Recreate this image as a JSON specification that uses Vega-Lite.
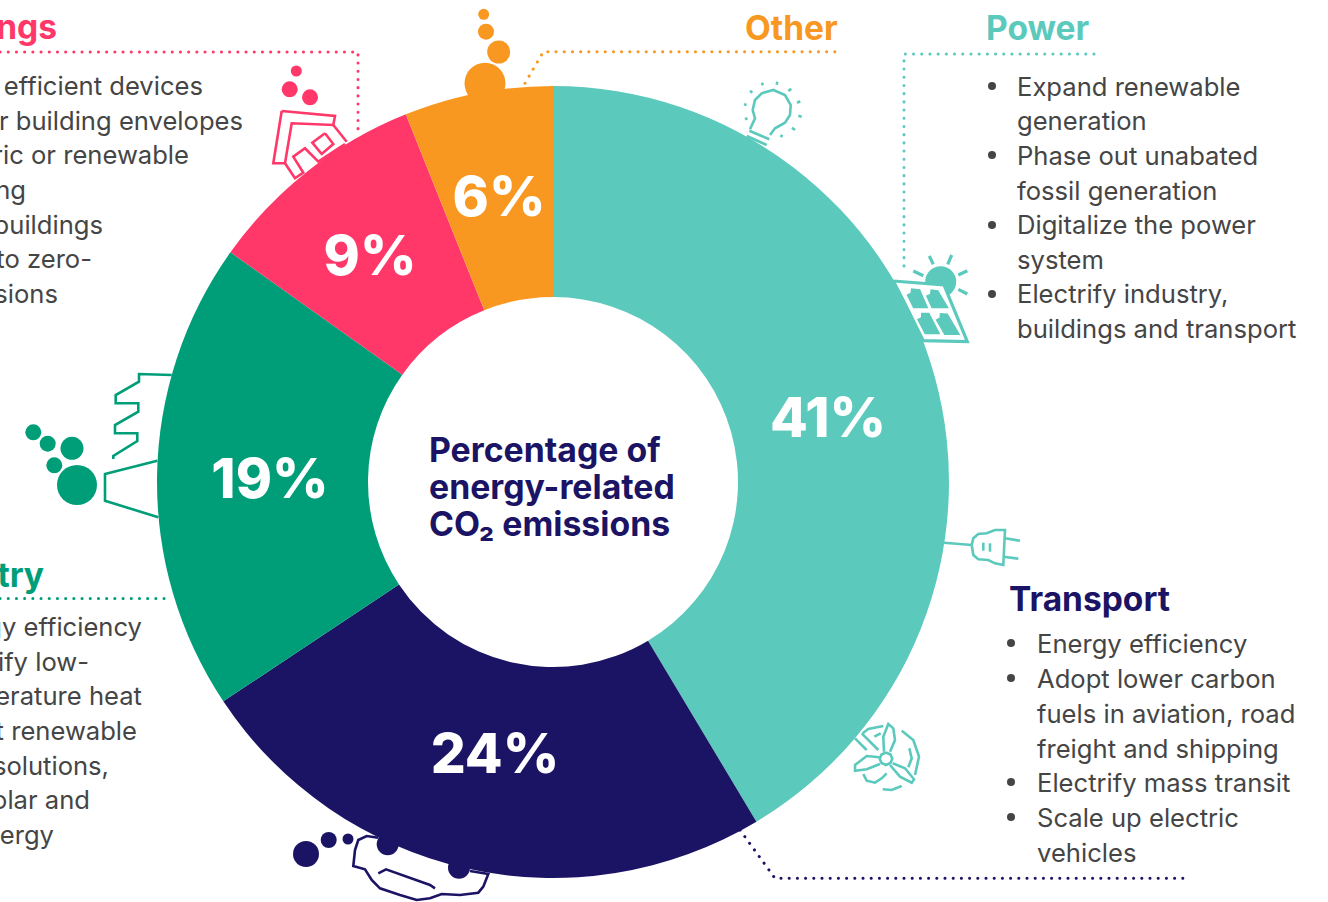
{
"$schema":"https://vega.github.io/schema/vega-lite/v6.json",
"width":1328,"height":902,"autosize":{"type":"none"},"padding":0,"background":"#ffffff",
"config":{"view":{"stroke":null},"text":{"font":"Inter"}},
"datasets":{
"slices":[
{"c":"Power","ord":1,"value":41,"cx":553,"cy":482},{"c":"Transport","ord":2,"value":24,"cx":553,"cy":482},{"c":"Industry","ord":3,"value":19,"cx":553,"cy":482},{"c":"Buildings","ord":4,"value":9,"cx":553,"cy":482},{"c":"Other","ord":5,"value":6,"cx":553,"cy":482}],
"texts":[
{"k":"pct","x":828,"y":437,"t":"41%"},{"k":"pct","x":495,"y":773,"t":"24%"},{"k":"pct","x":270,"y":498,"t":"19%"},{"k":"pct","x":370,"y":275,"t":"9%"},{"k":"pct","x":499,"y":216,"t":"6%"},
{"k":"title","x":429,"y":462,"t":"Percentage of"},{"k":"title","x":429,"y":499,"t":"energy-related"},{"k":"title","x":429,"y":536,"t":"CO₂ emissions"},
{"k":"headL","c":"Other","x":745,"y":40,"t":"Other"},{"k":"headL","c":"Power","x":986,"y":40,"t":"Power"},{"k":"headL","c":"Transport","x":1009,"y":611,"t":"Transport"},
{"k":"headR","c":"Buildings","x":57,"y":39,"t":"Buildings"},{"k":"headR","c":"Industry","x":44,"y":587,"t":"Industry"},
{"k":"bodyL","x":1017,"y":96,"t":"Expand renewable"},{"k":"bodyL","x":1017,"y":130,"t":"generation"},{"k":"bodyL","x":1017,"y":165,"t":"Phase out unabated"},{"k":"bodyL","x":1017,"y":200,"t":"fossil generation"},{"k":"bodyL","x":1017,"y":234,"t":"Digitalize the power"},{"k":"bodyL","x":1017,"y":269,"t":"system"},{"k":"bodyL","x":1017,"y":303,"t":"Electrify industry,"},{"k":"bodyL","x":1017,"y":338,"t":"buildings and transport"},
{"k":"bodyL","x":1037,"y":653,"t":"Energy efficiency"},{"k":"bodyL","x":1037,"y":688,"t":"Adopt lower carbon"},{"k":"bodyL","x":1037,"y":723,"t":"fuels in aviation, road"},{"k":"bodyL","x":1037,"y":758,"t":"freight and shipping"},{"k":"bodyL","x":1037,"y":792,"t":"Electrify mass transit"},{"k":"bodyL","x":1037,"y":827,"t":"Scale up electric"},{"k":"bodyL","x":1037,"y":862,"t":"vehicles"},
{"k":"bodyR","x":203,"y":95,"t":"Use efficient devices"},{"k":"bodyR","x":243,"y":130,"t":"Better building envelopes"},{"k":"bodyR","x":189,"y":164,"t":"Electric or renewable"},{"k":"bodyR","x":26,"y":199,"t":"heating"},{"k":"bodyR","x":103,"y":234,"t":"Retrofit buildings"},{"k":"bodyR","x":92,"y":268,"t":"to zero-"},{"k":"bodyR","x":58,"y":303,"t":"emissions"},
{"k":"bodyR","x":142,"y":636,"t":"Energy efficiency"},{"k":"bodyR","x":89,"y":671,"t":"Electrify low-"},{"k":"bodyR","x":142,"y":705,"t":"temperature heat"},{"k":"bodyR","x":137,"y":740,"t":"Adopt renewable"},{"k":"bodyR","x":109,"y":775,"t":"heat solutions,"},{"k":"bodyR","x":90,"y":809,"t":"e.g. solar and"},{"k":"bodyR","x":54,"y":844,"t":"bioenergy"}],
"dots":[
{"c":"Body","x":992,"y":86,"d":8},{"c":"Body","x":992,"y":155,"d":8},{"c":"Body","x":992,"y":225,"d":8},{"c":"Body","x":992,"y":294,"d":8},
{"c":"Body","x":1011,"y":643,"d":8},{"c":"Body","x":1011,"y":678,"d":8},{"c":"Body","x":1011,"y":782,"d":8},{"c":"Body","x":1011,"y":817,"d":8},
{"c":"Other","x":485,"y":83.3,"d":41},{"c":"Other","x":498.7,"y":52,"d":23},{"c":"Other","x":486,"y":31.7,"d":16},{"c":"Other","x":483.7,"y":14.3,"d":11},
{"c":"Buildings","x":296.3,"y":71,"d":11},{"c":"Buildings","x":289.7,"y":89.3,"d":16},{"c":"Buildings","x":310,"y":97.3,"d":16},
{"c":"Industry","x":77,"y":485,"d":40},{"c":"Industry","x":72,"y":448.3,"d":23},{"c":"Industry","x":54.3,"y":465.3,"d":16},{"c":"Industry","x":47.7,"y":443.7,"d":16},{"c":"Industry","x":33.3,"y":432.3,"d":16},
{"c":"Transport","x":387.7,"y":844.3,"d":22},{"c":"Transport","x":459,"y":867.7,"d":22},{"c":"Transport","x":306,"y":854,"d":26},{"c":"Transport","x":328.7,"y":840,"d":16},{"c":"Transport","x":348,"y":839,"d":11},
{"c":"Power","x":940.7,"y":281.7,"d":31}],
"leaders":[
{"g":"b","c":"Buildings","i":0,"x":0,"y":52},{"g":"b","c":"Buildings","i":1,"x":358,"y":52},{"g":"b","c":"Buildings","i":2,"x":358,"y":135},
{"g":"o","c":"Other","i":0,"x":525,"y":83.3},{"g":"o","c":"Other","i":1,"x":543.3,"y":51.7},{"g":"o","c":"Other","i":2,"x":839.3,"y":51.7},
{"g":"p","c":"Power","i":0,"x":1094,"y":54},{"g":"p","c":"Power","i":1,"x":904,"y":54},{"g":"p","c":"Power","i":2,"x":904,"y":274},
{"g":"t","c":"Transport","i":0,"x":740,"y":830},{"g":"t","c":"Transport","i":1,"x":775,"y":878.3},{"g":"t","c":"Transport","i":2,"x":1185,"y":878.3},
{"g":"n","c":"Industry","i":0,"x":0,"y":598.5},{"g":"n","c":"Industry","i":1,"x":165,"y":598.5}],
"panelWhite":[
{"g":"pw","c":"Paper","i":0,"x":907,"y":293},{"g":"pw","c":"Paper","i":1,"x":936,"y":295},{"g":"pw","c":"Paper","i":2,"x":952,"y":331},{"g":"pw","c":"Paper","i":3,"x":926,"y":330},{"g":"pw","c":"Paper","i":4,"x":907,"y":293}],
"fills":[
{"g":"c1","c":"Power","i":0,"x":910.5,"y":292.8},{"g":"c1","c":"Power","i":1,"x":917,"y":293.5},{"g":"c1","c":"Power","i":2,"x":921.5,"y":303.8},{"g":"c1","c":"Power","i":3,"x":916,"y":303.8},{"g":"c1","c":"Power","i":4,"x":910.5,"y":292.8},
{"g":"c2","c":"Power","i":0,"x":930,"y":293.8},{"g":"c2","c":"Power","i":1,"x":935.5,"y":294.5},{"g":"c2","c":"Power","i":2,"x":941,"y":303.8},{"g":"c2","c":"Power","i":3,"x":934.5,"y":303.8},{"g":"c2","c":"Power","i":4,"x":930,"y":293.8},
{"g":"c3","c":"Power","i":0,"x":921,"y":317.2},{"g":"c3","c":"Power","i":1,"x":926.5,"y":317.2},{"g":"c3","c":"Power","i":2,"x":933,"y":329.8},{"g":"c3","c":"Power","i":3,"x":927.5,"y":329.8},{"g":"c3","c":"Power","i":4,"x":921,"y":317.2},
{"g":"c4","c":"Power","i":0,"x":939.5,"y":317.4},{"g":"c4","c":"Power","i":1,"x":945,"y":317.8},{"g":"c4","c":"Power","i":2,"x":952.5,"y":330.5},{"g":"c4","c":"Power","i":3,"x":947,"y":330.5},{"g":"c4","c":"Power","i":4,"x":939.5,"y":317.4}],
"rays":[
{"g":"r1","c":"Power","i":0,"x":929.3,"y":256},{"g":"r1","c":"Power","i":1,"x":933.3,"y":264.3},
{"g":"r2","c":"Power","i":0,"x":951.7,"y":255},{"g":"r2","c":"Power","i":1,"x":947.7,"y":264.3},
{"g":"r3","c":"Power","i":0,"x":913.3,"y":271},{"g":"r3","c":"Power","i":1,"x":923.3,"y":275.7},
{"g":"r4","c":"Power","i":0,"x":958.3,"y":275},{"g":"r4","c":"Power","i":1,"x":967.3,"y":270.7},
{"g":"r5","c":"Power","i":0,"x":958.3,"y":289.3},{"g":"r5","c":"Power","i":1,"x":967.3,"y":294},
{"g":"pan","c":"Power","i":0,"x":893.3,"y":281},{"g":"pan","c":"Power","i":1,"x":944,"y":285},{"g":"pan","c":"Power","i":2,"x":967.3,"y":341.7},{"g":"pan","c":"Power","i":3,"x":923.3,"y":340.7},{"g":"pan","c":"Power","i":4,"x":893.3,"y":281}],
"icons":[
{"g":"bulb","c":"Power","i":0,"x":750,"y":129.3},{"g":"bulb","c":"Power","i":1,"x":755,"y":118.3},{"g":"bulb","c":"Power","i":2,"x":752.7,"y":110},{"g":"bulb","c":"Power","i":3,"x":755,"y":100},{"g":"bulb","c":"Power","i":4,"x":761.7,"y":93.3},{"g":"bulb","c":"Power","i":5,"x":773.3,"y":90},{"g":"bulb","c":"Power","i":6,"x":785,"y":95},{"g":"bulb","c":"Power","i":7,"x":790.7,"y":105},{"g":"bulb","c":"Power","i":8,"x":790,"y":115},{"g":"bulb","c":"Power","i":9,"x":785,"y":122.7},{"g":"bulb","c":"Power","i":10,"x":775,"y":128.3},{"g":"bulb","c":"Power","i":11,"x":770,"y":135},
{"g":"bb1","c":"Power","i":0,"x":749.3,"y":130.7},{"g":"bb1","c":"Power","i":1,"x":769.3,"y":139.3},
{"g":"bb2","c":"Power","i":0,"x":746.7,"y":136},{"g":"bb2","c":"Power","i":1,"x":766.7,"y":145},
{"g":"br1","c":"Power","i":0,"x":744,"y":104.3},{"g":"br1","c":"Power","i":1,"x":746.5,"y":105},
{"g":"br2","c":"Power","i":0,"x":745,"y":119.3},{"g":"br2","c":"Power","i":1,"x":747.5,"y":118.3},
{"g":"br3","c":"Power","i":0,"x":750,"y":90.7},{"g":"br3","c":"Power","i":1,"x":752.3,"y":92.7},
{"g":"br4","c":"Power","i":0,"x":762,"y":82.7},{"g":"br4","c":"Power","i":1,"x":762.7,"y":85.3},
{"g":"br5","c":"Power","i":0,"x":777.3,"y":81.7},{"g":"br5","c":"Power","i":1,"x":776.7,"y":84.7},
{"g":"br6","c":"Power","i":0,"x":791.3,"y":88.7},{"g":"br6","c":"Power","i":1,"x":788.3,"y":91},
{"g":"br7","c":"Power","i":0,"x":800.3,"y":101.3},{"g":"br7","c":"Power","i":1,"x":797,"y":102.7},
{"g":"br8","c":"Power","i":0,"x":801.7,"y":116.7},{"g":"br8","c":"Power","i":1,"x":798.3,"y":115.7},
{"g":"br9","c":"Power","i":0,"x":795,"y":130},{"g":"br9","c":"Power","i":1,"x":792,"y":127.7},
{"g":"br10","c":"Power","i":0,"x":781,"y":137.3},{"g":"br10","c":"Power","i":1,"x":782,"y":134.7},
{"g":"cord","c":"Power","i":0,"x":944,"y":542.7},{"g":"cord","c":"Power","i":1,"x":971.7,"y":545},
{"g":"plug","c":"Power","i":0,"x":971.7,"y":545},{"g":"plug","c":"Power","i":1,"x":973.3,"y":538.3},{"g":"plug","c":"Power","i":2,"x":978.3,"y":534},{"g":"plug","c":"Power","i":3,"x":986.7,"y":533.3},{"g":"plug","c":"Power","i":4,"x":995,"y":530},{"g":"plug","c":"Power","i":5,"x":1005,"y":530},{"g":"plug","c":"Power","i":6,"x":1003.3,"y":565},{"g":"plug","c":"Power","i":7,"x":995,"y":563.3},{"g":"plug","c":"Power","i":8,"x":988.3,"y":560},{"g":"plug","c":"Power","i":9,"x":978.3,"y":559.3},{"g":"plug","c":"Power","i":10,"x":973.3,"y":555},{"g":"plug","c":"Power","i":11,"x":971.7,"y":545},
{"g":"pr1","c":"Power","i":0,"x":1005,"y":538.3},{"g":"pr1","c":"Power","i":1,"x":1020,"y":540.7},
{"g":"pr2","c":"Power","i":0,"x":1003.3,"y":556.7},{"g":"pr2","c":"Power","i":1,"x":1018.3,"y":558.7},
{"g":"pi1","c":"Power","i":0,"x":983.3,"y":542.7},{"g":"pi1","c":"Power","i":1,"x":983.3,"y":550.7},
{"g":"pi2","c":"Power","i":0,"x":990,"y":543.3},{"g":"pi2","c":"Power","i":1,"x":990,"y":551.7},
{"g":"bt","c":"Power","i":0,"x":884,"y":751.7},{"g":"bt","c":"Power","i":1,"x":883.3,"y":736.7},{"g":"bt","c":"Power","i":2,"x":888.3,"y":724},{"g":"bt","c":"Power","i":3,"x":893.3,"y":728.3},{"g":"bt","c":"Power","i":4,"x":895,"y":740},{"g":"bt","c":"Power","i":5,"x":890,"y":751.7},
{"g":"bl","c":"Power","i":0,"x":879.3,"y":757.3},{"g":"bl","c":"Power","i":1,"x":866.7,"y":756},{"g":"bl","c":"Power","i":2,"x":855,"y":765},{"g":"bl","c":"Power","i":3,"x":855,"y":770.7},{"g":"bl","c":"Power","i":4,"x":866.7,"y":769.3},{"g":"bl","c":"Power","i":5,"x":880,"y":764},
{"g":"brr","c":"Power","i":0,"x":890,"y":765},{"g":"brr","c":"Power","i":1,"x":900,"y":776.7},{"g":"brr","c":"Power","i":2,"x":911.7,"y":782.7},{"g":"brr","c":"Power","i":3,"x":914,"y":779.3},{"g":"brr","c":"Power","i":4,"x":905,"y":768.3},{"g":"brr","c":"Power","i":5,"x":892.7,"y":763.3},
{"g":"hub","c":"Power","i":0,"x":886,"y":752.5},{"g":"hub","c":"Power","i":1,"x":890.5,"y":754.5},{"g":"hub","c":"Power","i":2,"x":892.3,"y":758.7},{"g":"hub","c":"Power","i":3,"x":890.5,"y":763},{"g":"hub","c":"Power","i":4,"x":886,"y":765},{"g":"hub","c":"Power","i":5,"x":881.5,"y":763},{"g":"hub","c":"Power","i":6,"x":879.7,"y":758.7},{"g":"hub","c":"Power","i":7,"x":881.5,"y":754.5},{"g":"hub","c":"Power","i":8,"x":886,"y":752.5},
{"g":"ra","c":"Power","i":0,"x":862.7,"y":733.3},{"g":"ra","c":"Power","i":1,"x":868.3,"y":729},{"g":"ra","c":"Power","i":2,"x":883.3,"y":726},
{"g":"rb","c":"Power","i":0,"x":874.3,"y":736.7},{"g":"rb","c":"Power","i":1,"x":880.7,"y":733.3},
{"g":"rc","c":"Power","i":0,"x":901.7,"y":730.7},{"g":"rc","c":"Power","i":1,"x":913.3,"y":740},{"g":"rc","c":"Power","i":2,"x":919,"y":756.7},{"g":"rc","c":"Power","i":3,"x":915,"y":775},
{"g":"rd","c":"Power","i":0,"x":909.3,"y":748.3},{"g":"rd","c":"Power","i":1,"x":911.7,"y":758.3},{"g":"rd","c":"Power","i":2,"x":908.3,"y":767.3},
{"g":"re","c":"Power","i":0,"x":882.7,"y":789.3},{"g":"re","c":"Power","i":1,"x":891.7,"y":790},{"g":"re","c":"Power","i":2,"x":901.7,"y":786},
{"g":"rf","c":"Power","i":0,"x":863.3,"y":774},{"g":"rf","c":"Power","i":1,"x":866.7,"y":780.7},{"g":"rf","c":"Power","i":2,"x":875,"y":782.7},{"g":"rf","c":"Power","i":3,"x":881.7,"y":778.3},{"g":"rf","c":"Power","i":4,"x":886.7,"y":773.3},
{"g":"la","c":"Power","i":0,"x":855,"y":738.3},{"g":"la","c":"Power","i":1,"x":866.7,"y":750},
{"g":"lb","c":"Power","i":0,"x":861.7,"y":733.3},{"g":"lb","c":"Power","i":1,"x":878.3,"y":750},
{"g":"car","c":"Transport","i":0,"x":378.3,"y":837.7},{"g":"car","c":"Transport","i":1,"x":366.7,"y":836},{"g":"car","c":"Transport","i":2,"x":358.3,"y":840},{"g":"car","c":"Transport","i":3,"x":355,"y":850},{"g":"car","c":"Transport","i":4,"x":353.3,"y":866},{"g":"car","c":"Transport","i":5,"x":365,"y":869.3},{"g":"car","c":"Transport","i":6,"x":371.7,"y":880},{"g":"car","c":"Transport","i":7,"x":380,"y":888.3},{"g":"car","c":"Transport","i":8,"x":400,"y":895},{"g":"car","c":"Transport","i":9,"x":416.7,"y":900},{"g":"car","c":"Transport","i":10,"x":430,"y":898.3},{"g":"car","c":"Transport","i":11,"x":441.7,"y":894},{"g":"car","c":"Transport","i":12,"x":460,"y":895},{"g":"car","c":"Transport","i":13,"x":478.3,"y":892.7},{"g":"car","c":"Transport","i":14,"x":483.3,"y":886.7},{"g":"car","c":"Transport","i":15,"x":488.3,"y":874},{"g":"car","c":"Transport","i":16,"x":470,"y":871},
{"g":"win","c":"Transport","i":0,"x":378.3,"y":873.3},{"g":"win","c":"Transport","i":1,"x":386,"y":869.3},{"g":"win","c":"Transport","i":2,"x":430,"y":885},{"g":"win","c":"Transport","i":3,"x":435,"y":888.3},
{"g":"roof","c":"Buildings","i":0,"x":281.7,"y":111},{"g":"roof","c":"Buildings","i":1,"x":335,"y":116},{"g":"roof","c":"Buildings","i":2,"x":333.3,"y":125},{"g":"roof","c":"Buildings","i":3,"x":291.7,"y":123.3},{"g":"roof","c":"Buildings","i":4,"x":285,"y":163.3},{"g":"roof","c":"Buildings","i":5,"x":273.3,"y":163.3},{"g":"roof","c":"Buildings","i":6,"x":281.7,"y":111},
{"g":"wall","c":"Buildings","i":0,"x":333.3,"y":125},{"g":"wall","c":"Buildings","i":1,"x":346.7,"y":141.7},
{"g":"base","c":"Buildings","i":0,"x":285,"y":163.3},{"g":"base","c":"Buildings","i":1,"x":295,"y":178.3},{"g":"base","c":"Buildings","i":2,"x":303.3,"y":172.7},{"g":"base","c":"Buildings","i":3,"x":293.3,"y":156.7},{"g":"base","c":"Buildings","i":4,"x":305,"y":148.3},{"g":"base","c":"Buildings","i":5,"x":318.3,"y":161.7},{"g":"base","c":"Buildings","i":6,"x":345,"y":144},
{"g":"hw","c":"Buildings","i":0,"x":325,"y":133.3},{"g":"hw","c":"Buildings","i":1,"x":333.3,"y":144},{"g":"hw","c":"Buildings","i":2,"x":321.7,"y":154},{"g":"hw","c":"Buildings","i":3,"x":312.3,"y":142.7},{"g":"hw","c":"Buildings","i":4,"x":325,"y":133.3},
{"g":"fu","c":"Industry","i":0,"x":171.7,"y":375},{"g":"fu","c":"Industry","i":1,"x":139,"y":374},{"g":"fu","c":"Industry","i":2,"x":139,"y":381.7},{"g":"fu","c":"Industry","i":3,"x":115.7,"y":395},{"g":"fu","c":"Industry","i":4,"x":115.7,"y":403.3},{"g":"fu","c":"Industry","i":5,"x":138.3,"y":403.3},{"g":"fu","c":"Industry","i":6,"x":138.3,"y":411.7},{"g":"fu","c":"Industry","i":7,"x":115,"y":425},{"g":"fu","c":"Industry","i":8,"x":115,"y":433.3},{"g":"fu","c":"Industry","i":9,"x":137.3,"y":433.3},{"g":"fu","c":"Industry","i":10,"x":137.3,"y":441},{"g":"fu","c":"Industry","i":11,"x":113.3,"y":456},{"g":"fu","c":"Industry","i":12,"x":113.3,"y":459},
{"g":"fl","c":"Industry","i":0,"x":157.3,"y":460.7},{"g":"fl","c":"Industry","i":1,"x":105,"y":474},{"g":"fl","c":"Industry","i":2,"x":105,"y":500.7},{"g":"fl","c":"Industry","i":3,"x":158.3,"y":517.3}]
},
"encoding":{
"x":{"field":"x","type":"quantitative","axis":null,"scale":{"domain":[0,1328],"range":[0,1328],"nice":false,"zero":false}},
"y":{"field":"y","type":"quantitative","axis":null,"scale":{"domain":[0,902],"range":[0,902],"nice":false,"zero":false}}
},
"layer":[
{"data":{"name":"icons"},"mark":{"type":"line","strokeWidth":2.6,"clip":false},
 "encoding":{"detail":{"field":"g"},"order":{"field":"i","type":"quantitative"},"color":{"field":"c","type":"nominal","legend":null,"scale":{"domain":["Power","Transport","Industry","Buildings","Other","Paper","Body"],"range":["#5CC9BD","#1B1464","#009E78","#FF3869","#F99820","#ffffff","#454545"]}}}},
{"data":{"name":"leaders"},"mark":{"type":"line","strokeWidth":3,"strokeCap":"round","strokeDash":[0.1,8.1],"clip":false},
 "encoding":{"detail":{"field":"g"},"order":{"field":"i","type":"quantitative"},"color":{"field":"c","type":"nominal","legend":null}}},
{"data":{"name":"dots"},"mark":{"type":"point","shape":"circle","filled":true,"opacity":1,"clip":false},
 "encoding":{"color":{"field":"c","type":"nominal","legend":null},"size":{"field":"d","type":"quantitative","legend":null,"scale":{"type":"pow","exponent":2,"domain":[0,100],"range":[0,10000]}}}},
{"data":{"name":"panelWhite"},"mark":{"type":"line","strokeWidth":22,"clip":false},
 "encoding":{"detail":{"field":"g"},"order":{"field":"i","type":"quantitative"},"color":{"field":"c","type":"nominal","legend":null}}},
{"data":{"name":"rays"},"mark":{"type":"line","strokeWidth":3.2,"clip":false},
 "encoding":{"detail":{"field":"g"},"order":{"field":"i","type":"quantitative"},"color":{"field":"c","type":"nominal","legend":null}}},
{"data":{"name":"fills"},"mark":{"type":"line","strokeWidth":9,"clip":false},
 "encoding":{"detail":{"field":"g"},"order":{"field":"i","type":"quantitative"},"color":{"field":"c","type":"nominal","legend":null}}},
{"data":{"name":"slices"},"mark":{"type":"arc","outerRadius":396,"innerRadius":185},
 "encoding":{"x":{"field":"cx","type":"quantitative"},"y":{"field":"cy","type":"quantitative"},
  "theta":{"field":"value","type":"quantitative"},
  "order":{"field":"ord","type":"quantitative"},
  "color":{"field":"c","type":"nominal","legend":null}}},
{"data":{"name":"texts"},"transform":[{"filter":"datum.k==='pct'"}],"mark":{"type":"text","font":"Inter","fontSize":55,"fontWeight":800,"align":"center","baseline":"alphabetic","color":"#ffffff"},"encoding":{"text":{"field":"t"}}},
{"data":{"name":"texts"},"transform":[{"filter":"datum.k==='title'"}],"mark":{"type":"text","font":"Inter","fontSize":33.8,"fontWeight":700,"align":"left","baseline":"alphabetic","color":"#1B1464"},"encoding":{"text":{"field":"t"}}},
{"data":{"name":"texts"},"transform":[{"filter":"datum.k==='headL'"}],"mark":{"type":"text","font":"Inter","fontSize":33.5,"fontWeight":700,"align":"left","baseline":"alphabetic"},"encoding":{"text":{"field":"t"},"color":{"field":"c","type":"nominal","legend":null}}},
{"data":{"name":"texts"},"transform":[{"filter":"datum.k==='headR'"}],"mark":{"type":"text","font":"Inter","fontSize":33.5,"fontWeight":700,"align":"right","baseline":"alphabetic"},"encoding":{"text":{"field":"t"},"color":{"field":"c","type":"nominal","legend":null}}},
{"data":{"name":"texts"},"transform":[{"filter":"datum.k==='bodyL'"}],"mark":{"type":"text","font":"Inter","fontSize":25.6,"fontWeight":400,"align":"left","baseline":"alphabetic","color":"#454545"},"encoding":{"text":{"field":"t"}}},
{"data":{"name":"texts"},"transform":[{"filter":"datum.k==='bodyR'"}],"mark":{"type":"text","font":"Inter","fontSize":25.6,"fontWeight":400,"align":"right","baseline":"alphabetic","color":"#454545"},"encoding":{"text":{"field":"t"}}}
]
}
